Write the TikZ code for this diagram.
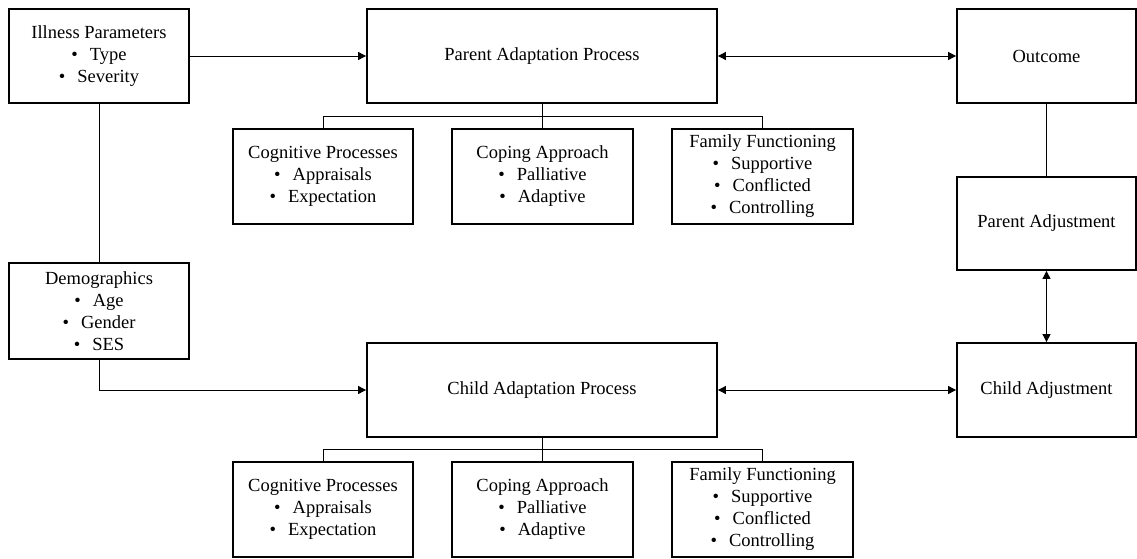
\documentclass[tikz,border=0pt]{standalone}
\usepackage{fontspec}
\setmainfont{Liberation Serif}
\usetikzlibrary{arrows.meta}
\newcommand{\bul}[1]{\textbullet\hspace{12pt}#1}
\tikzset{
  box/.style={draw, line width=1.8pt, align=center, inner sep=0pt,
    font=\fontsize{18.5pt}{22pt}\selectfont},
  conn/.style={line width=0.9pt},
  arr/.style={conn, -{Triangle[length=8pt,width=8pt]}},
  dar/.style={conn, {Triangle[length=8pt,width=8pt]}-{Triangle[length=8pt,width=8pt]}}
}
\begin{document}
\begin{tikzpicture}[x=1pt,y=-1pt]
\useasboundingbox (0,0) rectangle (1137,559);
% main boxes
\node[box, minimum width=180pt, minimum height=94pt] (ill) at (99,56) {Illness Parameters\\ \bul{Type}\\ \bul{Severity}};
\node[box, minimum width=350pt, minimum height=94pt] (pap) at (542,56) {Parent Adaptation Process};
\node[box, minimum width=179pt, minimum height=94pt] (out) at (1046.5,56) {Outcome};
\node[box, minimum width=179pt, minimum height=93pt] (padj) at (1046.5,223.5) {Parent Adjustment};
\node[box, minimum width=179pt, minimum height=94pt] (cadj) at (1046.5,390) {Child Adjustment};
\node[box, minimum width=180pt, minimum height=96pt] (demo) at (99,311) {Demographics\\ \bul{Age}\\ \bul{Gender}\\ \bul{SES}};
\node[box, minimum width=350pt, minimum height=94pt] (cap) at (542,390) {Child Adaptation Process};
% parent sub-boxes
\node[box, minimum width=180pt, minimum height=95pt] (cogA) at (323,176.5) {Cognitive Processes\\ \bul{Appraisals}\\ \bul{Expectation}};
\node[box, minimum width=181pt, minimum height=95pt] (copA) at (542.5,176.5) {Coping Approach\\ \bul{Palliative}\\ \bul{Adaptive}};
\node[box, minimum width=181pt, minimum height=95pt] (famA) at (762.5,176.5) {Family Functioning\\ \bul{Supportive}\\ \bul{Conflicted}\\ \bul{Controlling}};
% child sub-boxes
\node[box, minimum width=180pt, minimum height=95pt] (cogB) at (323,509.5) {Cognitive Processes\\ \bul{Appraisals}\\ \bul{Expectation}};
\node[box, minimum width=181pt, minimum height=95pt] (copB) at (542.5,509.5) {Coping Approach\\ \bul{Palliative}\\ \bul{Adaptive}};
\node[box, minimum width=181pt, minimum height=95pt] (famB) at (762.5,509.5) {Family Functioning\\ \bul{Supportive}\\ \bul{Conflicted}\\ \bul{Controlling}};
% branch coordinates
\coordinate (bA) at (542,116);
\coordinate (bB) at (542,449);
% connectors
\draw[arr] (ill.east) -- (pap.west);
\draw[dar] (pap.east) -- (out.west);
\draw[conn] (out.south) -- (padj.north);
\draw[dar] (padj.south) -- (cadj.north);
\draw[conn] (ill.south) -- (demo.north);
\draw[arr] (demo.south) |- (cap.west);
\draw[dar] (cap.east) -- (cadj.west);
\draw[conn] (pap.south) -- (copA.north -| pap.south);
\draw[conn] (cogA.north) -- (cogA.north |- bA) -- (famA.north |- bA) -- (famA.north);
\draw[conn] (cap.south) -- (copB.north -| cap.south);
\draw[conn] (cogB.north) -- (cogB.north |- bB) -- (famB.north |- bB) -- (famB.north);
\end{tikzpicture}
\end{document}
